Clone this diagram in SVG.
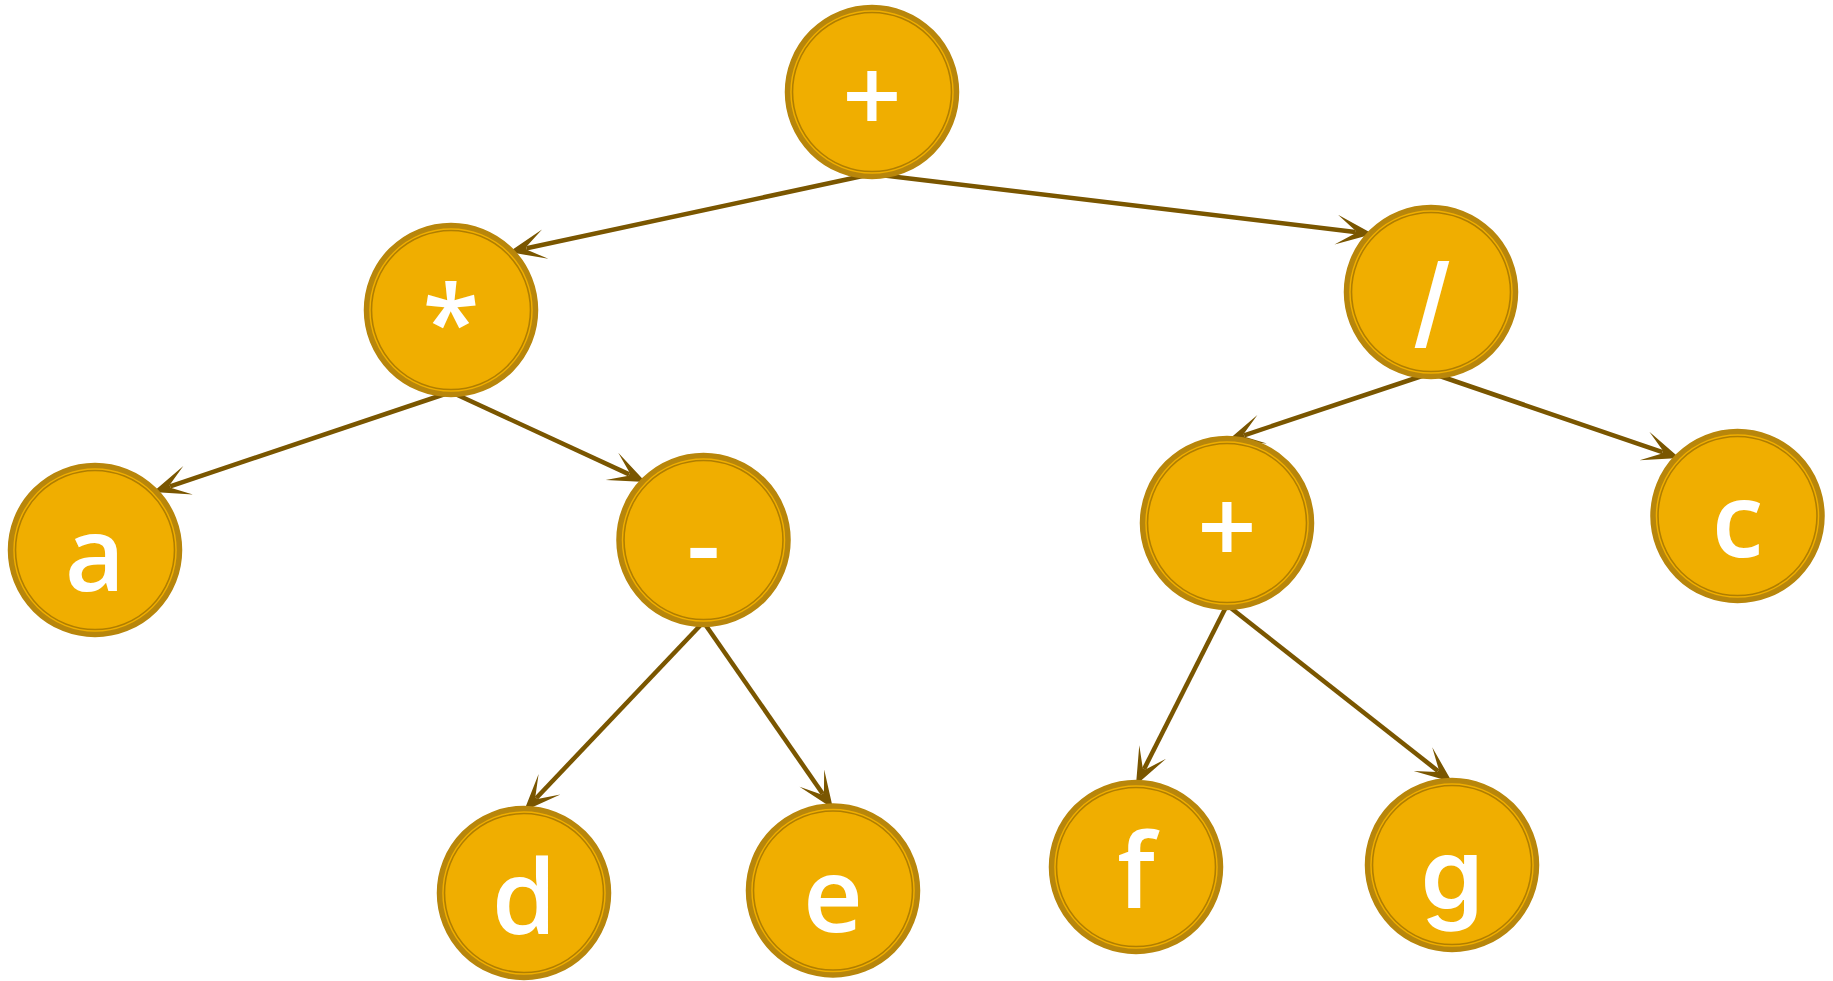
<svg xmlns="http://www.w3.org/2000/svg" width="1833" height="981" viewBox="0 0 1833 981">
  <style>
    .ring { fill: #F0AE00; stroke: #B8860B; stroke-width: 5.5; }
    .inner { fill: none; stroke: #B07E00; stroke-width: 1.6; }
    .lbl { fill: #FFFFFF; font-family: "Open Sans", "Noto Sans", "DejaVu Sans", sans-serif; font-weight: 600; font-size: 104px; text-anchor: middle; }
    .alt { font-family: "Inter", "Open Sans", sans-serif; font-size: 100px; }
    .edge { fill: none; stroke: #7A5600; stroke-width: 4.5; marker-end: url(#vee); }
  </style>
  <defs>
    <!-- swept-back arrowhead; (0,0) is where the shaft stops -->
    <marker id="vee" markerUnits="userSpaceOnUse" viewBox="-22 -18 44 36" markerWidth="44" markerHeight="36" refX="0" refY="0" orient="auto">
      <path d="M18,0 L-19,-15 L0,-1.5 L0,1.5 L-19,15 Z" fill="#7A5600"/>
    </marker>
  </defs>

  <g id="connectors">
    <path class="edge" d="M872,174 L526.6,248.2"/>
    <path class="edge" d="M872,174 L1355.1,231.9"/>
    <path class="edge" d="M451,392 L170.1,486.3"/>
    <path class="edge" d="M451,392 L629.2,474.4"/>
    <path class="edge" d="M1431,373 L1244.1,435.3"/>
    <path class="edge" d="M1431,373 L1662.5,452.2"/>
    <path class="edge" d="M703.5,622 L536.4,798"/>
    <path class="edge" d="M703.5,622 L822.7,793.7"/>
    <path class="edge" d="M1227,605 L1144.1,768.9"/>
    <path class="edge" d="M1227,605 L1437.9,770.9"/>
  </g>

  <g id="node-plus-root">
    <circle class="ring" cx="872" cy="92" r="84.5"/>
    <circle class="inner" cx="872" cy="92" r="79.5"/>
    <text class="lbl" x="872" y="133">+</text>
  </g>
  <g id="node-mul">
    <circle class="ring" cx="451" cy="310" r="84.5"/>
    <circle class="inner" cx="451" cy="310" r="79.5"/>
    <text class="lbl" x="451" y="360">*</text>
  </g>
  <g id="node-div">
    <circle class="ring" cx="1431" cy="292" r="84.5"/>
    <circle class="inner" cx="1431" cy="292" r="79.5"/>
    <text class="lbl alt" x="1432" y="337">/</text>
  </g>
  <g id="node-a">
    <circle class="ring" cx="95" cy="550" r="84.5"/>
    <circle class="inner" cx="95" cy="550" r="79.5"/>
    <text class="lbl" x="95" y="591">a</text>
  </g>
  <g id="node-minus">
    <circle class="ring" cx="703.5" cy="540" r="84.5"/>
    <circle class="inner" cx="703.5" cy="540" r="79.5"/>
    <text class="lbl" x="703.5" y="581">-</text>
  </g>
  <g id="node-plus">
    <circle class="ring" cx="1227" cy="523" r="84.5"/>
    <circle class="inner" cx="1227" cy="523" r="79.5"/>
    <text class="lbl" x="1227" y="564">+</text>
  </g>
  <g id="node-c">
    <circle class="ring" cx="1737.5" cy="516" r="84.5"/>
    <circle class="inner" cx="1737.5" cy="516" r="79.5"/>
    <text class="lbl" x="1737.5" y="557">c</text>
  </g>
  <g id="node-d">
    <circle class="ring" cx="524" cy="893" r="84.5"/>
    <circle class="inner" cx="524" cy="893" r="79.5"/>
    <text class="lbl" x="524" y="934">d</text>
  </g>
  <g id="node-e">
    <circle class="ring" cx="833" cy="890.5" r="84.5"/>
    <circle class="inner" cx="833" cy="890.5" r="79.5"/>
    <text class="lbl" x="833" y="931.5">e</text>
  </g>
  <g id="node-f">
    <circle class="ring" cx="1136" cy="867" r="84.5"/>
    <circle class="inner" cx="1136" cy="867" r="79.5"/>
    <text class="lbl" x="1136" y="908">f</text>
  </g>
  <g id="node-g">
    <circle class="ring" cx="1452" cy="865" r="84.5"/>
    <circle class="inner" cx="1452" cy="865" r="79.5"/>
    <text class="lbl alt" x="1452" y="910">g</text>
  </g>
</svg>
